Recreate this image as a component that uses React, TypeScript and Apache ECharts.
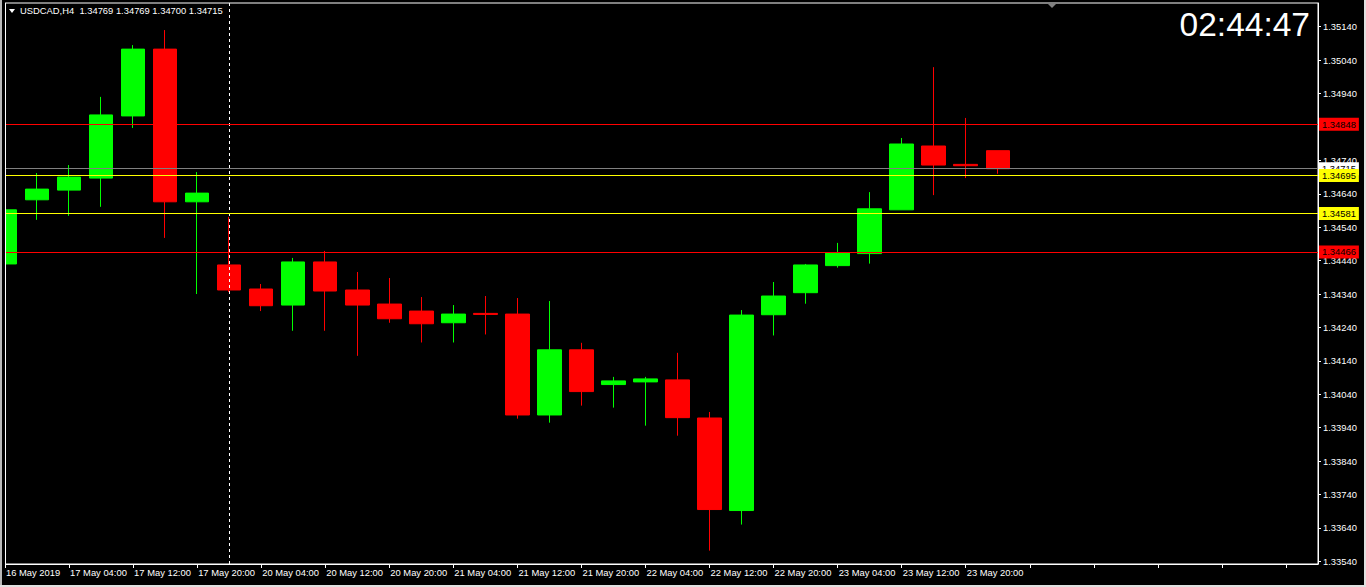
import React, { useEffect, useRef } from "react";
import * as echarts from "echarts";

// ---- data ----
const symbolName = "USDCAD,H4";
const times = [
  "16 May 20:00", "17 May 00:00", "17 May 04:00", "17 May 08:00", "17 May 12:00", "17 May 16:00", "17 May 20:00",
  "20 May 00:00", "20 May 04:00", "20 May 08:00", "20 May 12:00", "20 May 16:00", "20 May 20:00",
  "21 May 00:00", "21 May 04:00", "21 May 08:00", "21 May 12:00", "21 May 16:00", "21 May 20:00",
  "22 May 00:00", "22 May 04:00", "22 May 08:00", "22 May 12:00", "22 May 16:00", "22 May 20:00",
  "23 May 00:00", "23 May 04:00", "23 May 08:00", "23 May 12:00", "23 May 16:00", "23 May 20:00",
  "24 May 00:00",
];
const opens = [
  1.3443, 1.34622, 1.34651, 1.34687, 1.34873, 1.35073, 1.34616,
  1.34427, 1.34355, 1.34307, 1.34436, 1.34352, 1.3431,
  1.34289, 1.34254, 1.34282, 1.3428, 1.33978, 1.34173,
  1.34069, 1.34077, 1.34083, 1.33969, 1.33692, 1.34278,
  1.34344, 1.34425, 1.34461, 1.34592, 1.34783, 1.34728,
  1.34769,
];
const highs = [
  1.34696, 1.34702, 1.34726, 1.3493, 1.35085, 1.3513, 1.34705,
  1.34571, 1.3437, 1.34448, 1.34469, 1.34406, 1.34388,
  1.34331, 1.34307, 1.34334, 1.34328, 1.34319, 1.34194,
  1.34092, 1.34092, 1.34164, 1.33987, 1.34292, 1.34376,
  1.3443, 1.34493, 1.34645, 1.34807, 1.35019, 1.34867,
  1.34769,
];
const lows = [
  1.344, 1.34562, 1.34574, 1.34601, 1.34837, 1.34508, 1.3434,
  1.34346, 1.34289, 1.3423, 1.3423, 1.34155, 1.34254,
  1.34195, 1.34195, 1.34219, 1.33967, 1.33955, 1.34006,
  1.34, 1.33946, 1.33916, 1.33572, 1.3365, 1.34216,
  1.34311, 1.34419, 1.34431, 1.34592, 1.34636, 1.34687,
  1.347,
];
const closes = [
  1.34592, 1.34654, 1.3469, 1.34876, 1.35073, 1.34616, 1.34642,
  1.34352, 1.34305, 1.34436, 1.34349, 1.34307, 1.34266,
  1.34251, 1.3428, 1.34279, 1.33978, 1.34173, 1.34048,
  1.3408, 1.34086, 1.3397, 1.33695, 1.34277, 1.34334,
  1.34427, 1.34464, 1.34595, 1.34789, 1.34726, 1.34724,
  1.34715,
];
const emptySlots = 10;
const xTickLabels = [
  "16 May 2019", "17 May 04:00", "17 May 12:00", "17 May 20:00", "20 May 04:00", "20 May 12:00",
  "20 May 20:00", "21 May 04:00", "21 May 12:00", "21 May 20:00", "22 May 04:00", "22 May 12:00",
  "22 May 20:00", "23 May 04:00", "23 May 12:00", "23 May 20:00",
];
const yTicks = [
  1.3354, 1.3364, 1.3374, 1.3384, 1.3394, 1.3404, 1.3414, 1.3424, 1.3434,
  1.3444, 1.3454, 1.3464, 1.3474, 1.3484, 1.3494, 1.3504, 1.3514,
];
const yMin = 1.33532;
const yMax = 1.35211;
const redLevels = [1.34848, 1.34466];
const yellowLevels = [1.34695, 1.34581];
const bidPrice = 1.34715;
const separatorTime = "20 May 00:00";
const clockText = "02:44:47";

const FONT = "'Liberation Sans', Arial, sans-serif";

export default function App() {
  const ref = useRef<HTMLDivElement>(null);

  useEffect(() => {
    document.body.style.margin = "0";
    document.body.style.background = "#000";
    const chart = echarts.init(ref.current!, null, { renderer: "svg" });
    const categories = times.concat(Array.from({ length: emptySlots }, (_, i) => "+" + (i + 1)));
    const last = times.length - 1;
    const fmt = (v: number) => v.toFixed(5);
    const header =
      symbolName + "\u00a0\u00a0" + fmt(opens[last]) + " " + fmt(highs[last]) + " " + fmt(lows[last]) + " " + fmt(closes[last]);

    const levelLabel = (bg: string) => ({
      show: true,
      position: "end",
      distance: 1,
      backgroundColor: bg,
      color: "#000",
      fontSize: 9.4,
      fontFamily: FONT,
      padding: [1, 3, 1, 3],
      lineHeight: 11,
      formatter: (p: any) => fmt(Number(p.value)),
    });

    chart.setOption({
      animation: false,
      backgroundColor: "#000",
      grid: {
        left: 5,
        right: 48,
        top: 3,
        bottom: 23,
        show: true,
        borderColor: "#fff",
        borderWidth: 1,
        backgroundColor: "#000",
        outerBoundsMode: "none",
        containLabel: false,
      },
      xAxis: {
        type: "category",
        data: categories,
        boundaryGap: false,
        axisLine: { show: true, lineStyle: { color: "#fff", width: 1 } },
        axisTick: { show: true, interval: 1, length: 4, lineStyle: { color: "#fff" } },
        axisLabel: {
          interval: 1,
          align: "left",
          margin: 4,
          color: "#fff",
          fontSize: 9.4,
          fontFamily: FONT,
          padding: [0, 0, 0, 1],
          formatter: (_v: string, idx: number) => (idx % 2 === 0 ? xTickLabels[idx / 2] ?? "" : ""),
        },
        splitLine: { show: false },
      },
      yAxis: {
        type: "value",
        position: "right",
        min: yMin,
        max: yMax,
        scale: true,
        splitLine: { show: false },
        axisLine: { show: true, lineStyle: { color: "#fff", width: 1 } },
        axisTick: { show: true, length: 3, customValues: yTicks, lineStyle: { color: "#fff" } },
        axisLabel: {
          customValues: yTicks,
          margin: 5,
          color: "#fff",
          fontSize: 9.4,
          fontFamily: FONT,
          formatter: (v: number) => fmt(v),
        },
      },
      series: [
        {
          type: "candlestick",
          data: opens.map((o, i) => [o, closes[i], lows[i], highs[i]]),
          barWidth: 24,
          clip: true,
          itemStyle: {
            color: "#00ff00",
            color0: "#ff0000",
            borderColor: "#00ff00",
            borderColor0: "#ff0000",
            borderWidth: 1,
          },
          markLine: {
            silent: true,
            precision: 5,
            symbol: ["none", "none"],
            animation: false,
            data: [
              { xAxis: separatorTime, lineStyle: { color: "#fff", type: [3, 3], width: 1 }, label: { show: false } },
              { yAxis: bidPrice, lineStyle: { color: "#808080", type: "solid", width: 1 }, label: levelLabel("#ffffff") },
              ...redLevels.map((v) => ({
                yAxis: v,
                lineStyle: { color: "#ff0000", type: "solid", width: 1 },
                label: levelLabel("#ff0000"),
              })),
              ...yellowLevels.map((v) => ({
                yAxis: v,
                lineStyle: { color: "#ffff00", type: "solid", width: 1 },
                label: levelLabel("#ffff00"),
              })),
            ],
          },
        },
      ],
      graphic: [
        { type: "rect", x: 0, y: 0, shape: { width: 5, height: 587 }, style: { fill: "#000" }, silent: true, z: 50 },
        { type: "line", shape: { x1: 5.5, y1: 3, x2: 5.5, y2: 564 }, style: { stroke: "#fff", lineWidth: 1 }, silent: true, z: 51 },
        { type: "rect", x: 0, y: 0, shape: { width: 2, height: 587 }, style: { fill: "#b8b8b8" }, silent: true, z: 52 },
        { type: "rect", x: 1364, y: 0, shape: { width: 2, height: 587 }, style: { fill: "#e0e0e0" }, silent: true, z: 52 },
        { type: "rect", x: 0, y: 585, shape: { width: 1366, height: 2 }, style: { fill: "#e0e0e0" }, silent: true, z: 52 },
        {
          type: "polygon",
          shape: { points: [[9, 9], [15, 9], [12, 13]] },
          style: { fill: "#fff" },
          silent: true,
          z: 52,
        },
        {
          type: "text",
          x: 20,
          y: 10.5,
          style: { text: header, fill: "#fff", font: `9.4px ${FONT}`, verticalAlign: "middle", align: "left" },
          silent: true,
          z: 52,
        },
        {
          type: "text",
          x: 1310,
          y: 24,
          style: { text: clockText, fill: "#fff", font: `33.5px ${FONT}`, verticalAlign: "middle", align: "right" },
          silent: true,
          z: 52,
        },
        {
          type: "polygon",
          shape: { points: [[1047, 3], [1057, 3], [1052, 8]] },
          style: { fill: "#808080" },
          silent: true,
          z: 52,
        },
      ],
    });
    return () => chart.dispose();
  }, []);

  return <div ref={ref} style={{ width: 1366, height: 587, background: "#000" }} />;
}
